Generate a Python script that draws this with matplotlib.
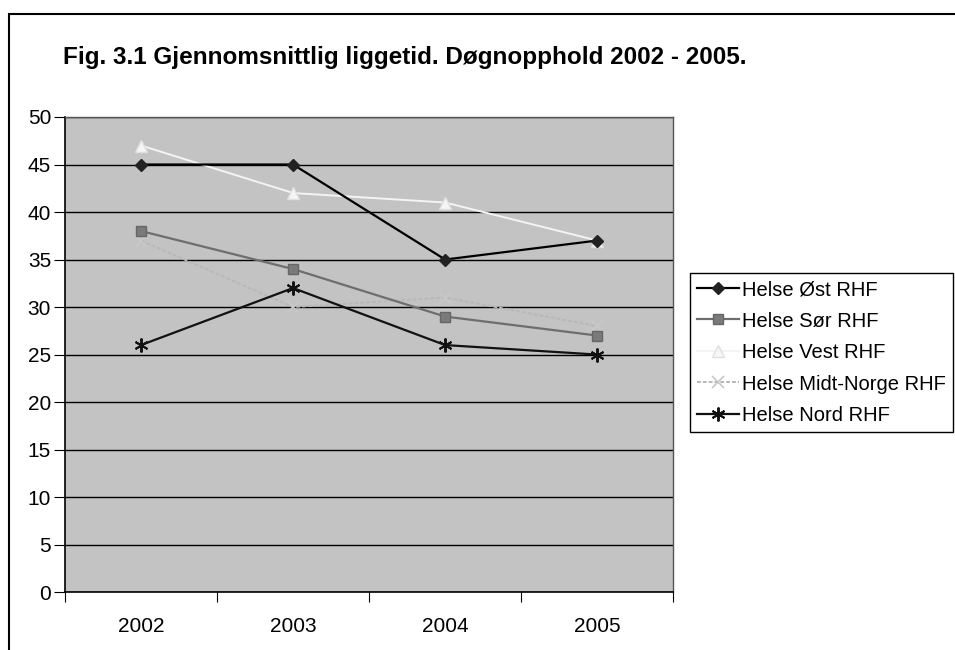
import matplotlib.pyplot as plt
from matplotlib.patches import Rectangle

plt.rcParams['font.family'] = ['Liberation Sans', 'DejaVu Sans']

years = ['2002', '2003', '2004', '2005']
ost = [45, 45, 35, 37]
sor = [38, 34, 29, 27]
vest = [47, 42, 41, 37]
midt = [37, 30, 31, 28]
nord = [26, 32, 26, 25]

fig = plt.figure(figsize=(9.55, 6.5), dpi=100)
ax = fig.add_axes([0.068, 0.089, 0.637, 0.731])
ax.set_facecolor('#c3c3c3')

x = range(len(years))
ax.plot(x, ost, color='black', lw=1.6, marker='D', ms=6.5, mfc='#222222', mec='#222222',
        label='Helse Øst RHF', zorder=4)
ax.plot(x, sor, color='#6e6e6e', lw=1.6, marker='s', ms=7, mfc='#7a7a7a', mec='#666666',
        label='Helse Sør RHF', zorder=4)
ax.plot(x, vest, color='#f4f4f4', lw=1.4, marker='^', ms=8, mfc='#f6f6f6', mec='#e0e0e0',
        label='Helse Vest RHF', zorder=3)
ax.plot(x, midt, color='#b8b8b8', lw=1.4, ls=(0, (2, 1)), marker='x', ms=8, mew=1.2,
        mec='#c8c8c8', label='Helse Midt-Norge RHF', zorder=3)
ax.plot(x, nord, color='#111111', lw=1.6, marker=(6, 2, 0), ms=10, mew=1.4, mec='#111111',
        label='Helse Nord RHF', zorder=4)

ax.set_ylim(0, 50)
ax.set_yticks(range(0, 51, 5))
ax.grid(axis='y', color='black', lw=1.0)
ax.set_axisbelow(True)

ax.set_xlim(-0.5, 3.5)
ax.set_xticks([-0.5, 0.5, 1.5, 2.5, 3.5])
ax.set_xticklabels([])
ax.set_xticks(list(x), minor=True)
ax.set_xticklabels(years, minor=True)
ax.tick_params(axis='x', which='major', direction='out', length=7, color='black')
ax.tick_params(axis='x', which='minor', length=0, pad=18, labelsize=15)
ax.tick_params(axis='y', direction='out', length=8, pad=2, labelsize=15)

for side in ['top', 'right']:
    ax.spines[side].set_color('#555555')
    ax.spines[side].set_linewidth(1.0)
for side in ['left', 'bottom']:
    ax.spines[side].set_color('black')
    ax.spines[side].set_linewidth(1.2)

fig.text(0.066, 0.912, 'Fig. 3.1 Gjennomsnittlig liggetid. Døgnopphold 2002 - 2005.',
         fontsize=17.5, fontweight='bold', va='center')

# outer frame of the chart object
fig.patches.append(Rectangle((0.009, -0.05), 1.2, 1.028, transform=fig.transFigure,
                             fill=False, ec='black', lw=1.5))

leg = ax.legend(loc='upper left', bbox_to_anchor=(0.722, 0.58), bbox_transform=fig.transFigure,
                fontsize=14.5, frameon=True, fancybox=False, edgecolor='black',
                framealpha=1, borderpad=0.35, labelspacing=0.62, handlelength=2.1,
                handletextpad=0.15, borderaxespad=0)
leg.get_frame().set_linewidth(1.0)

fig.savefig('out.png', dpi=100)
